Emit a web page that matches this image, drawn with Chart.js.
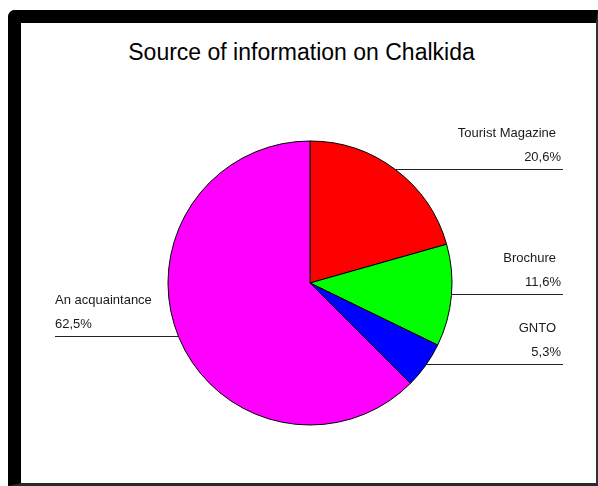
<!DOCTYPE html>
<html>
<head>
<meta charset="utf-8">
<script src="https://cdn.jsdelivr.net/npm/chart.js@4"></script>
<style>
  html, body { margin: 0; padding: 0; background: #fff; }
  body { width: 598px; height: 486px; position: relative; overflow: hidden; }
  #frame {
    position: absolute; left: 8px; top: 10px; width: 590px; height: 476px;
    box-sizing: border-box;
    border-left: 13px solid #000; border-top: 13px solid #000;
    border-right: 2px solid #333; border-bottom: 3px solid #2a2a2a;
    border-top-left-radius: 7px;
  }
  #title {
    position: absolute; left: 0; top: 41px; width: 603px;
    text-align: center; font: 23px/23px "Liberation Sans", Arial, sans-serif; color: #000;
  }
  #chart { position: absolute; left: 0; top: 0; }
</style>
</head>
<body>
<div id="frame"></div>
<div id="title">Source of information on Chalkida</div>
<canvas id="chart" width="598" height="486"></canvas>
<script>
const categories = ['Tourist Magazine', 'Brochure', 'GNTO', 'An acquaintance'];
const shares = [20.6, 11.6, 5.3, 62.5];
const sliceColors = ['#ff0000', '#00ff00', '#0000ff', '#ff00ff'];

// horizontal leader lines from the middle of each slice edge, with name and percent above
const leaderLabels = {
  id: 'leaderLabels',
  afterDatasetsDraw(chart, args, opts) {
    const ctx = chart.ctx;
    const meta = chart.getDatasetMeta(0);
    ctx.save();
    ctx.font = '13px "Liberation Sans", Arial, sans-serif';
    ctx.fillStyle = '#1a1a1a';
    ctx.strokeStyle = '#222';
    ctx.lineWidth = 1;
    meta.data.forEach((arc, i) => {
      const p = arc.getProps(['x', 'y', 'startAngle', 'endAngle', 'outerRadius'], true);
      const mid = (p.startAngle + p.endAngle) / 2;
      const px = p.x + Math.cos(mid) * p.outerRadius;
      const py = Math.round(p.y + Math.sin(mid) * p.outerRadius) - 0.5;
      const pct = shares[i].toFixed(1).replace('.', ',') + '%';
      const right = Math.cos(mid) >= 0;
      ctx.beginPath();
      if (right) {
        ctx.moveTo(px, py);
        ctx.lineTo(opts.rightEdge, py);
      } else {
        ctx.moveTo(opts.leftEdge, py);
        ctx.lineTo(px, py);
      }
      ctx.stroke();
      if (right) {
        ctx.textAlign = 'right';
        ctx.fillText(categories[i], opts.rightEdge - 7, py - 33);
        ctx.fillText(pct, opts.rightEdge - 2, py - 8.5);
      } else {
        ctx.textAlign = 'left';
        ctx.fillText(categories[i], opts.leftEdge, py - 33);
        ctx.fillText(pct, opts.leftEdge, py - 8.5);
      }
    });
    ctx.restore();
  }
};

new Chart(document.getElementById('chart'), {
  type: 'pie',
  data: {
    labels: categories,
    datasets: [{
      data: shares,
      backgroundColor: sliceColors,
      borderColor: '#000',
      borderWidth: 1,
      radius: 142
    }]
  },
  options: {
    responsive: false,
    animation: false,
    layout: { padding: { left: 22, right: 0, top: 99, bottom: 19 } },
    plugins: {
      legend: { display: false },
      tooltip: { enabled: false },
      leaderLabels: { leftEdge: 55, rightEdge: 563 }
    }
  },
  plugins: [leaderLabels]
});
</script>
</body>
</html>
